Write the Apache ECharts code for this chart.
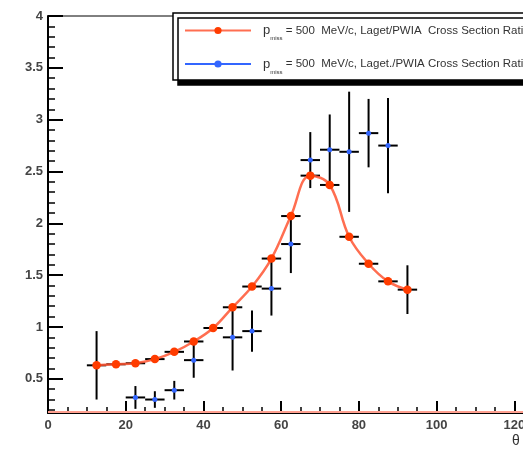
<!DOCTYPE html>
<html><head><meta charset="utf-8">
<script src="https://cdn.jsdelivr.net/npm/echarts@6/dist/echarts.min.js"></script>
<style>html,body{margin:0;padding:0;background:#fff}#c{width:523px;height:451px}</style>
</head><body><div id="c"></div>
<script>
// ---- data ----
const X_MIN = 0, X_MAX = 140, X_INTERVAL = 20;
const Y_MIN = 0.17, Y_MAX = 4;
const yTickLabels = [0.5, 1, 1.5, 2, 2.5, 3, 3.5, 4];
const yMinorTicks = [0.2,0.3,0.4,0.6,0.7,0.8,0.9,1.1,1.2,1.3,1.4,1.6,1.7,1.8,1.9,2.1,2.2,2.3,2.4,2.6,2.7,2.8,2.9,3.1,3.2,3.3,3.4,3.6,3.7,3.8,3.9];
const xAxisTitle = 'θ';

const redName = 'p_miss = 500  MeV/c, Laget/PWIA  Cross Section Ratio';
const redX    = [12.5, 17.5, 22.5, 27.5, 32.5, 37.5, 42.5, 47.5, 52.5, 57.5, 62.5, 67.5, 72.5, 77.5, 82.5, 87.5, 92.5];
const redY    = [0.63, 0.64, 0.65, 0.69, 0.76, 0.86, 0.99, 1.19, 1.39, 1.66, 2.07, 2.46, 2.37, 1.87, 1.61, 1.44, 1.36];
const redXErr = [2.5, 2.5, 2.5, 2.5, 2.5, 2.5, 2.5, 2.5, 2.5, 2.5, 2.5, 2.5, 2.5, 2.5, 2.5, 2.5, 2.5];
const redYErr = [0.33, 0, 0, 0, 0, 0, 0, 0, 0, 0, 0, 0, 0, 0, 0, 0, 0.235];

const blueName = 'p_miss = 500  MeV/c, Laget./PWIA Cross Section Ratio';
const blueX    = [22.5, 27.5, 32.5, 37.5, 47.5, 52.5, 57.5, 62.5, 67.5, 72.5, 77.5, 82.5, 87.5];
const blueY    = [0.32, 0.30, 0.39, 0.68, 0.90, 0.96, 1.37, 1.80, 2.61, 2.71, 2.69, 2.87, 2.75];
const blueXErr = [2.5, 2.5, 2.5, 2.5, 2.5, 2.5, 2.5, 2.5, 2.5, 2.5, 2.5, 2.5, 2.5];
const blueYErr = [0.11, 0.08, 0.09, 0.17, 0.32, 0.20, 0.26, 0.28, 0.27, 0.34, 0.58, 0.33, 0.46];

// ---- chart ----
const FONT = 'Liberation Sans, Arial, Helvetica, sans-serif';
const RED = '#ff3c00', BLUE = '#3366ff';
function zip(xs, ys) { return xs.map((x, i) => [x, ys[i]]); }
function errData(xs, ys, xe, ye) { return xs.map((x, i) => [x, ys[i], xe[i], ye[i]]); }
function errRender(params, api) {
  const x = api.value(0), y = api.value(1), xe = api.value(2), ye = api.value(3);
  const st = { stroke: '#000', lineWidth: 2 };
  const h1 = api.coord([x - xe, y]), h2 = api.coord([x + xe, y]);
  const children = [{ type: 'line', shape: { x1: h1[0], y1: h1[1], x2: h2[0], y2: h2[1] }, style: st }];
  if (ye > 0) {
    const v1 = api.coord([x, y - ye]), v2 = api.coord([x, y + ye]);
    children.push({ type: 'line', shape: { x1: v1[0], y1: v1[1], x2: v2[0], y2: v2[1] }, style: st });
  }
  return { type: 'group', children };
}
const legendFmt = name => {
  const rest = name.replace('p_miss', '');
  return '{p|p}{s|miss}{t|' + rest + '}';
};

const chart = echarts.init(document.getElementById('c'), null, { renderer: 'canvas' });
chart.setOption({
  animation: false,
  backgroundColor: '#fff',
  textStyle: { fontFamily: FONT },
  grid: { left: 48, top: 16, width: 544, height: 397, show: true, borderColor: '#000', borderWidth: 1, backgroundColor: 'transparent', outerBoundsMode: 'none', containLabel: false },
  xAxis: {
    type: 'value', min: X_MIN, max: X_MAX, interval: X_INTERVAL,
    axisLine: { lineStyle: { color: '#000', width: 2 } },
    axisTick: { inside: true, length: 12, lineStyle: { color: '#000', width: 2 } },
    minorTick: { show: true, splitNumber: 4, length: 6, lineStyle: { color: '#000', width: 1.5 } },
    axisLabel: { fontSize: 13, fontWeight: 'bold', color: '#444', margin: 6, fontFamily: FONT },
    splitLine: { show: false }
  },
  yAxis: [{
    type: 'value', min: Y_MIN, max: Y_MAX,
    axisLine: { show: true, lineStyle: { color: '#000', width: 2 } },
    axisTick: { inside: true, length: 15, customValues: yTickLabels, lineStyle: { color: '#000', width: 2 } },
    axisLabel: { customValues: yTickLabels, fontSize: 13, fontWeight: 'bold', color: '#444', margin: 5, fontFamily: FONT },
    splitLine: { show: false }
  }, {
    type: 'value', min: Y_MIN, max: Y_MAX, position: 'left',
    axisLine: { show: false },
    axisTick: { show: true, inside: true, length: 7, customValues: yMinorTicks, lineStyle: { color: '#000', width: 1.5 } },
    axisLabel: { show: false },
    splitLine: { show: false }
  }],
  legend: {
    orient: 'vertical', left: 173, top: 13, padding: [11, 80, 5, 11], itemGap: 16,
    itemWidth: 66, itemHeight: 9, selectedMode: false,
    backgroundColor: '#fff', borderColor: '#000', borderWidth: 1.5, borderRadius: 0,
    shadowColor: '#000', shadowOffsetX: 5, shadowOffsetY: 5, shadowBlur: 0,
    data: [
      { name: redName },
      { name: blueName, lineStyle: { width: 2, color: BLUE, opacity: 1 } }
    ],
    formatter: legendFmt,
    textStyle: {
      fontFamily: FONT,
      rich: {
        p: { fontSize: 13, color: '#333', lineHeight: 22, padding: [0, 0, 0, 7], verticalAlign: 'middle', fontFamily: FONT },
        s: { fontSize: 6, color: '#333', lineHeight: 22, verticalAlign: 'bottom', padding: [0, 0, 0, 0], fontFamily: FONT },
        t: { fontSize: 11.5, color: '#333', lineHeight: 22, verticalAlign: 'middle', fontFamily: FONT }
      }
    }
  },
  graphic: [{ type: 'text', left: 512, top: 434, style: { text: xAxisTitle, fontSize: 14, fill: '#333', fontFamily: FONT } }],
  series: [
    { type: 'custom', name: 'blueErr', renderItem: errRender, data: errData(blueX, blueY, blueXErr, blueYErr), z: 1, clip: true, silent: true },
    { type: 'custom', name: 'redErr', renderItem: errRender, data: errData(redX, redY, redXErr, redYErr), z: 1, clip: true, silent: true },
    {
      type: 'line', name: redName, data: zip(redX, redY), smooth: 0.4, z: 3,
      symbol: 'circle', symbolSize: 8.5,
      itemStyle: { color: RED },
      lineStyle: { color: '#ff5533', width: 2.5, opacity: 0.85 },
      markLine: { silent: true, symbol: 'none', label: { show: false },
        lineStyle: { color: '#ffa090', width: 2, type: 'solid' },
        data: [{ yAxis: Y_MIN + 0.01 }] }
    },
    {
      type: 'line', name: blueName, data: zip(blueX, blueY), z: 4,
      symbol: 'circle', symbolSize: 5,
      itemStyle: { color: BLUE },
      lineStyle: { width: 0, opacity: 0 }
    }
  ]
});
</script></body></html>
